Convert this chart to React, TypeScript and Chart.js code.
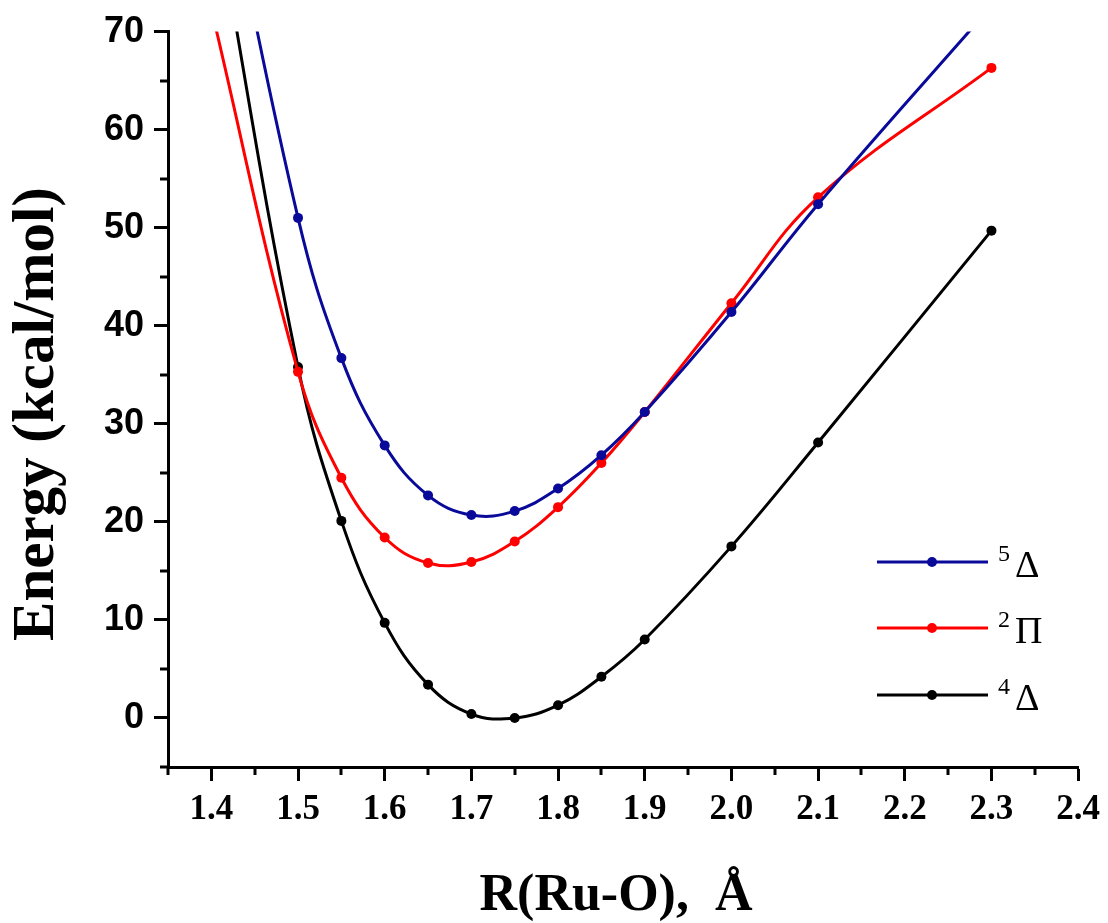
import React, { useEffect, useRef } from 'react';
import { Chart, registerables } from 'chart.js';

Chart.register(...registerables);

// Bond length R(Ru-O), Å
const rValues = [1.4, 1.5, 1.55, 1.6, 1.65, 1.7, 1.75, 1.8, 1.85, 1.9, 2.0, 2.1, 2.3];
// Energies, kcal/mol
const quintetDelta = [93, 51.0, 36.7, 27.8, 22.7, 20.7, 21.1, 23.4, 26.8, 31.2, 41.4, 52.4, 72.6];
const doubletPi = [72.3, 35.3, 24.5, 18.4, 15.8, 15.9, 18.0, 21.5, 26.0, 31.2, 42.3, 53.1, 66.3];
const quartetDelta = [85, 35.8, 20.1, 9.7, 3.4, 0.4, 0.0, 1.3, 4.2, 8.0, 17.5, 28.1, 49.7];

const seriesSup = ['5', '2', '4'];
const seriesSym = ['Δ', 'Π', 'Δ'];
const seriesColors = ['#0a0a9a', '#ff0000', '#000000'];

const xMajorTicks = [1.4, 1.5, 1.6, 1.7, 1.8, 1.9, 2.0, 2.1, 2.2, 2.3, 2.4];
const xMinorTicks = [1.35, 1.45, 1.55, 1.65, 1.75, 1.85, 1.95, 2.05, 2.15, 2.25, 2.35];
const yMajorTicks = [0, 10, 20, 30, 40, 50, 60, 70];
const yMinorTicks = [-5, 5, 15, 25, 35, 45, 55, 65];

const xTitle = 'R(Ru-O),  Å';
const yTitle = 'Energy (kcal/mol)';

const W = 1108;
const H = 923;

const decorPlugin = {
  id: 'decor',
  afterDraw(chart: any) {
    const ctx = chart.ctx;
    const xs = chart.scales.x;
    const ys = chart.scales.y;
    const area = chart.chartArea;
    ctx.save();
    // minor ticks
    ctx.strokeStyle = '#000';
    ctx.lineWidth = 3;
    ctx.lineCap = 'butt';
    xMinorTicks.forEach((v) => {
      const px = Math.round(xs.getPixelForValue(v));
      ctx.beginPath();
      ctx.moveTo(px, area.bottom);
      ctx.lineTo(px, area.bottom + 8);
      ctx.stroke();
    });
    yMinorTicks.forEach((v) => {
      const py = Math.round(ys.getPixelForValue(v));
      ctx.beginPath();
      ctx.moveTo(area.left, py);
      ctx.lineTo(area.left - 8, py);
      ctx.stroke();
    });

    // axis titles
    ctx.fillStyle = '#000';
    ctx.font = 'bold 52px "Liberation Serif", "Times New Roman", serif';
    ctx.textAlign = 'center';
    ctx.textBaseline = 'alphabetic';
    ctx.fillText(xTitle, 616, 910);

    ctx.save();
    ctx.translate(53, 414);
    ctx.rotate(-Math.PI / 2);
    ctx.font = 'bold 59px "Liberation Serif", "Times New Roman", serif';
    ctx.textAlign = 'center';
    ctx.textBaseline = 'alphabetic';
    ctx.fillText(yTitle, 0, 0);
    ctx.restore();

    // legend
    const rows = [562, 628, 695];
    chart.data.datasets.forEach((ds: any, i: number) => {
      const y = rows[i];
      ctx.strokeStyle = ds.borderColor;
      ctx.lineWidth = 3;
      ctx.beginPath();
      ctx.moveTo(877, y);
      ctx.lineTo(988, y);
      ctx.stroke();
      ctx.fillStyle = ds.borderColor;
      ctx.beginPath();
      ctx.arc(932, y, 5, 0, Math.PI * 2);
      ctx.fill();
      ctx.fillStyle = '#000';
      ctx.textAlign = 'left';
      ctx.textBaseline = 'alphabetic';
      ctx.font = '24px "Liberation Serif", "Times New Roman", serif';
      ctx.fillText(seriesSup[i], 998, y - 1);
      ctx.font = '38px "Liberation Serif", "Times New Roman", serif';
      ctx.fillText(seriesSym[i], 1015, y + 15);
    });
    ctx.restore();
  },
};

export default function App() {
  const ref = useRef<HTMLCanvasElement | null>(null);
  useEffect(() => {
    document.body.style.margin = '0';
    const canvas = ref.current;
    if (!canvas) return;
    const all = [quintetDelta, doubletPi, quartetDelta];
    const chart = new Chart(canvas, {
      type: 'line',
      data: {
        datasets: all.map((vals, i) => ({
          label: seriesSup[i] + seriesSym[i],
          data: rValues.map((r, j) => ({ x: r, y: vals[j] })),
          borderColor: seriesColors[i],
          backgroundColor: seriesColors[i],
          pointBackgroundColor: seriesColors[i],
          pointBorderWidth: 0,
          pointRadius: 5,
          borderWidth: 3,
          tension: 0.4,
          fill: false,
          clip: 0,
        })),
      },
      options: {
        animation: false,
        responsive: false,
        devicePixelRatio: 1,
        layout: { padding: { top: 30, right: 28, left: 0, bottom: 0 } },
        plugins: {
          legend: { display: false },
          tooltip: { enabled: false },
          title: { display: false },
        },
        scales: {
          x: {
            type: 'linear',
            min: 1.35,
            max: 2.4,
            afterBuildTicks: (s: any) => {
              s.ticks = xMajorTicks.map((v) => ({ value: v }));
            },
            afterFit: (s: any) => {
              s.height = 156;
            },
            ticks: {
              color: '#000',
              padding: 8,
              maxRotation: 0,
              autoSkip: false,
              font: { family: '"Liberation Serif", "Times New Roman", serif', size: 35, weight: 'bold' },
              callback: (v: any) => Number(v).toFixed(1),
            },
            grid: {
              display: true,
              drawOnChartArea: false,
              drawTicks: true,
              tickLength: 14,
              tickWidth: 3,
              tickColor: '#000',
            },
            border: { display: true, color: '#000', width: 3 },
          },
          y: {
            type: 'linear',
            min: -5,
            max: 70,
            afterBuildTicks: (s: any) => {
              s.ticks = yMajorTicks.map((v) => ({ value: v }));
            },
            afterFit: (s: any) => {
              s.width = 168;
            },
            ticks: {
              color: '#000',
              padding: 10,
              autoSkip: false,
              font: { family: '"Liberation Sans", Arial, sans-serif', size: 36, weight: 'bold' },
              callback: (v: any) => String(v),
            },
            grid: {
              display: true,
              drawOnChartArea: false,
              drawTicks: true,
              tickLength: 14,
              tickWidth: 3,
              tickColor: '#000',
            },
            border: { display: true, color: '#000', width: 3 },
          },
        },
      },
      plugins: [decorPlugin],
    });
    return () => chart.destroy();
  }, []);
  return <canvas ref={ref} width={W} height={H} style={{ display: 'block', width: W, height: H }} />;
}
